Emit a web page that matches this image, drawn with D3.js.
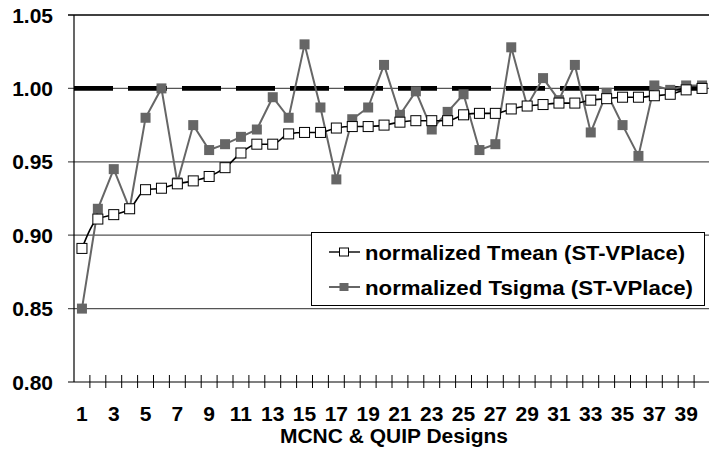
<!DOCTYPE html>
<html>
<head>
<meta charset="utf-8">
<script src="https://cdn.jsdelivr.net/npm/d3@7"></script>
<style>
  html, body { margin: 0; padding: 0; background: #fff; }
  svg { display: block; font-family: "Liberation Sans", Arial, Helvetica, sans-serif; }
</style>
</head>
<body>
<svg id="chart" width="709" height="450"></svg>
<script>
// Design index 1..40
const designs = d3.range(1, 41);

// Normalized mean delay per design
const tmean = [
  0.891, 0.911, 0.914, 0.918, 0.931, 0.932, 0.935, 0.937, 0.940, 0.946,
  0.956, 0.962, 0.962, 0.969, 0.970, 0.970, 0.973, 0.974, 0.974, 0.975,
  0.977, 0.978, 0.978, 0.978, 0.982, 0.983, 0.983, 0.986, 0.988, 0.989,
  0.990, 0.990, 0.992, 0.993, 0.994, 0.994, 0.995, 0.996, 0.999, 1.000
];

// Normalized delay sigma per design
const tsigma = [
  0.850, 0.918, 0.945, 0.918, 0.980, 1.000, 0.936, 0.975, 0.958, 0.962,
  0.967, 0.972, 0.994, 0.980, 1.030, 0.987, 0.938, 0.979, 0.987, 1.016,
  0.982, 0.998, 0.972, 0.984, 0.996, 0.958, 0.962, 1.028, 0.988, 1.007,
  0.992, 1.016, 0.970, 0.997, 0.975, 0.954, 1.002, 0.999, 1.002, 1.002
];

// Reference level (ratio = 1)
const refValue = 1.0;

const yTicks = [0.80, 0.85, 0.90, 0.95, 1.00, 1.05];
const xTickLabels = designs.filter(d => d % 2 === 1);
const seriesNames = ["normalized Tmean (ST-VPlace)", "normalized Tsigma (ST-VPlace)"];

const svg = d3.select("#chart");
const plotL = 74, plotR = 710, plotT = 15, plotB = 382;

const x = d3.scaleBand().domain(designs).range([plotL, plotR]).padding(0);
const y = d3.scaleLinear().domain([0.80, 1.05]).range([plotB, plotT]);
const cx = d => x(d) + x.bandwidth() / 2;

const grey = "#666666";

// Horizontal gridlines with left tick stubs
svg.append("g").selectAll("line")
  .data(yTicks.slice(1))
  .join("line")
  .attr("x1", plotL - 6).attr("x2", plotR)
  .attr("y1", d => y(d)).attr("y2", d => y(d))
  .attr("stroke", d => d === 1.05 ? "#000" : "#555")
  .attr("stroke-width", d => d === 1.05 ? 1.4 : 1.2);

// Y tick labels
svg.append("g").selectAll("text")
  .data(yTicks)
  .join("text")
  .attr("x", 53)
  .attr("y", d => y(d) + 7.5)
  .attr("text-anchor", "end")
  .attr("font-size", 21)
  .attr("font-weight", "bold")
  .attr("fill", "#000")
  .text(d => d.toFixed(2));

// Y axis line
svg.append("line")
  .attr("x1", plotL).attr("x2", plotL)
  .attr("y1", plotT).attr("y2", plotB)
  .attr("stroke", "#000").attr("stroke-width", 1.2);

// X axis line and tick marks at category boundaries
svg.append("line")
  .attr("x1", plotL - 6).attr("x2", plotR)
  .attr("y1", plotB).attr("y2", plotB)
  .attr("stroke", "#000").attr("stroke-width", 1.2);

const boundaries = designs.map(d => x(d)).concat([x.range()[1]]);
svg.append("g").selectAll("line")
  .data(boundaries.slice(1))
  .join("line")
  .attr("x1", d => d).attr("x2", d => d)
  .attr("y1", plotB - 7).attr("y2", plotB + 6)
  .attr("stroke", "#000").attr("stroke-width", 1);

// X tick labels (odd designs)
svg.append("g").selectAll("text")
  .data(xTickLabels)
  .join("text")
  .attr("x", d => cx(d))
  .attr("y", 421)
  .attr("text-anchor", "middle")
  .attr("font-size", 21)
  .attr("font-weight", "bold")
  .attr("fill", "#000")
  .text(d => d);

// X axis title
svg.append("text")
  .attr("x", 280)
  .attr("y", 443)
  .attr("font-size", 20)
  .attr("font-weight", "bold")
  .attr("fill", "#000")
  .attr("textLength", 228)
  .attr("lengthAdjust", "spacingAndGlyphs")
  .text("MCNC & QUIP Designs");

// Dashed reference line at ratio 1
svg.append("line")
  .attr("x1", plotL).attr("x2", cx(designs[designs.length - 1]))
  .attr("y1", y(refValue)).attr("y2", y(refValue))
  .attr("stroke", "#000").attr("stroke-width", 4.8)
  .attr("stroke-dasharray", "39 15");

const line = d3.line().x((d, i) => cx(designs[i])).y(d => y(d));

// Tsigma series
svg.append("path")
  .datum(tsigma)
  .attr("d", line)
  .attr("fill", "none")
  .attr("stroke", grey)
  .attr("stroke-width", 2);

svg.append("g").selectAll("rect")
  .data(tsigma)
  .join("rect")
  .attr("x", (d, i) => cx(designs[i]) - 5)
  .attr("y", d => y(d) - 5)
  .attr("width", 10).attr("height", 10)
  .attr("fill", grey);

// Tmean series
svg.append("path")
  .datum(tmean)
  .attr("d", d3.line().curve(d3.curveMonotoneX).x((d, i) => cx(designs[i])).y(d => y(d)))
  .attr("fill", "none")
  .attr("stroke", "#000")
  .attr("stroke-width", 1.6);

svg.append("g").selectAll("rect")
  .data(tmean)
  .join("rect")
  .attr("x", (d, i) => cx(designs[i]) - 5)
  .attr("y", d => y(d) - 5)
  .attr("width", 10).attr("height", 10)
  .attr("fill", "#fff")
  .attr("stroke", "#000")
  .attr("stroke-width", 1);

// Legend
const lg = svg.append("g");
lg.append("rect")
  .attr("x", 311.5).attr("y", 232.5)
  .attr("width", 393).attr("height", 73)
  .attr("fill", "#fff").attr("stroke", "#000").attr("stroke-width", 1);

const rows = [
  { name: seriesNames[0], cy: 252, len: 320, stroke: "#000", fill: "#fff", sw: 1.4 },
  { name: seriesNames[1], cy: 287, len: 328, stroke: grey, fill: grey, sw: 2 }
];
rows.forEach(r => {
  lg.append("line")
    .attr("x1", 329).attr("x2", 360)
    .attr("y1", r.cy).attr("y2", r.cy)
    .attr("stroke", r.stroke).attr("stroke-width", r.sw);
  lg.append("rect")
    .attr("x", 339.5).attr("y", r.cy - 4)
    .attr("width", 9).attr("height", 8)
    .attr("fill", r.fill)
    .attr("stroke", r.fill === "#fff" ? "#000" : "none");
  lg.append("text")
    .attr("x", 365).attr("y", r.cy + 7.5)
    .attr("font-size", 20)
    .attr("font-weight", "bold")
    .attr("fill", "#000")
    .attr("textLength", r.len)
    .attr("lengthAdjust", "spacingAndGlyphs")
    .text(r.name);
});
</script>
</body>
</html>
